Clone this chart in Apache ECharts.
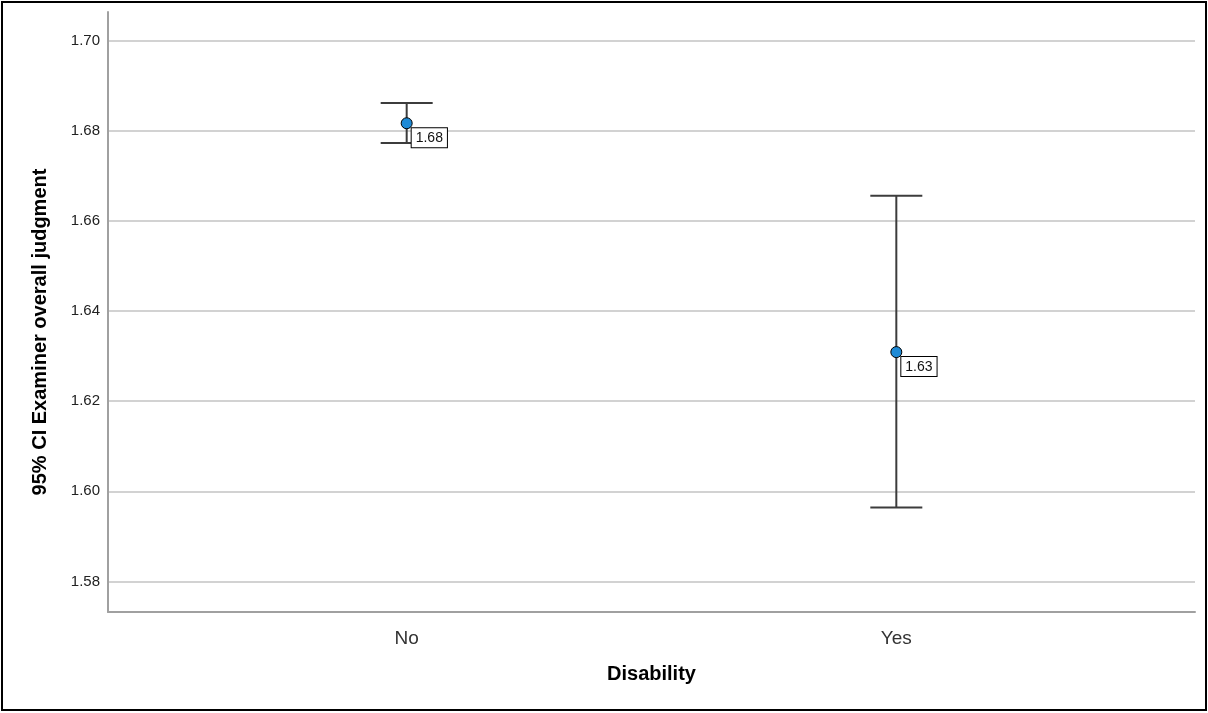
<!DOCTYPE html>
<html>
<head>
<meta charset="utf-8">
<script src="https://cdn.jsdelivr.net/npm/echarts@6/dist/echarts.min.js"></script>
<style>
  html, body { margin: 0; padding: 0; background: #fff; }
  #chart { width: 1208px; height: 713px; }
</style>
</head>
<body>
<div id="chart"></div>
<script>
// Disability groups and 95% confidence intervals of the examiner's overall judgment
const categories = ['No', 'Yes'];
const means = [1.6817, 1.6309];
const lowerCI = [1.6773, 1.5964];
const upperCI = [1.6862, 1.6656];
const yTicks = [1.58, 1.60, 1.62, 1.64, 1.66, 1.68, 1.70];

const chart = echarts.init(document.getElementById('chart'), null, { renderer: 'canvas' });

const barData = categories.map((c, i) => [i, lowerCI[i], upperCI[i]]);
const pointData = categories.map((c, i) => [i, means[i]]);

const whiskerColor = '#3c3c3c';
const font = 'Arial, "Liberation Sans", sans-serif';

const option = {
  backgroundColor: '#ffffff',
  animation: false,
  grid: { left: 108, right: 13, top: 12, bottom: 101, containLabel: false },
  xAxis: {
    type: 'value',
    min: -0.61,
    max: 1.61,
    name: 'Disability',
    nameLocation: 'middle',
    nameGap: 52,
    nameTextStyle: { fontFamily: font, fontSize: 20, fontWeight: 'bold', color: '#000' },
    axisLine: { show: true, onZero: false, lineStyle: { color: '#a0a0a0', width: 2 } },
    axisTick: { show: false, customValues: [0, 1] },
    axisLabel: {
      customValues: [0, 1],
      formatter: v => categories[Math.round(v)],
      fontFamily: font,
      fontSize: 19,
      color: '#333',
      margin: 17
    },
    splitLine: { show: false }
  },
  yAxis: {
    type: 'value',
    min: 1.5732,
    max: 1.7064,
    name: '95% CI Examiner overall judgment',
    nameLocation: 'middle',
    nameGap: 58,
    nameTextStyle: {
      fontFamily: font, fontSize: 20, fontWeight: 'bold', color: '#000',
      padding: [0, 40, 0, 0]
    },
    axisLine: { show: true, onZero: false, lineStyle: { color: '#a0a0a0', width: 2 } },
    axisTick: { show: false, customValues: yTicks },
    axisLabel: {
      customValues: yTicks,
      formatter: v => v.toFixed(2),
      fontFamily: font,
      fontSize: 15,
      color: '#222',
      margin: 8
    },
    splitLine: { show: true, lineStyle: { color: '#d2d2d2', width: 2 } }
  },
  graphic: [{
    type: 'rect',
    shape: { x: 2, y: 2, width: 1204, height: 708 },
    style: { fill: 'none', stroke: '#000', lineWidth: 2 },
    silent: true,
    z: 100
  }],
  series: [
    {
      type: 'custom',
      name: 'CI',
      data: barData,
      encode: { x: 0, y: [1, 2] },
      renderItem: function (params, api) {
        const x = api.value(0);
        const lo = api.coord([x, api.value(1)]);
        const hi = api.coord([x, api.value(2)]);
        const half = 26;
        const style = { stroke: whiskerColor, lineWidth: 2, fill: 'none' };
        return {
          type: 'group',
          children: [
            { type: 'line', shape: { x1: lo[0], y1: lo[1], x2: hi[0], y2: hi[1] }, style: style },
            { type: 'line', shape: { x1: hi[0] - half, y1: hi[1], x2: hi[0] + half, y2: hi[1] }, style: style },
            { type: 'line', shape: { x1: lo[0] - half, y1: lo[1], x2: lo[0] + half, y2: lo[1] }, style: style }
          ]
        };
      },
      z: 2
    },
    {
      type: 'scatter',
      name: 'Mean',
      data: pointData,
      symbol: 'circle',
      symbolSize: 11,
      itemStyle: { color: '#1e8ad6', borderColor: '#000', borderWidth: 1, opacity: 1 },
      label: {
        show: true,
        position: [11, 11],
        formatter: p => p.value[1].toFixed(2),
        fontFamily: font,
        fontSize: 14,
        color: '#111',
        backgroundColor: '#fff',
        borderColor: '#000',
        borderWidth: 1,
        padding: [3, 4, 2, 4]
      },
      z: 3
    }
  ]
};

chart.setOption(option);
</script>
</body>
</html>
